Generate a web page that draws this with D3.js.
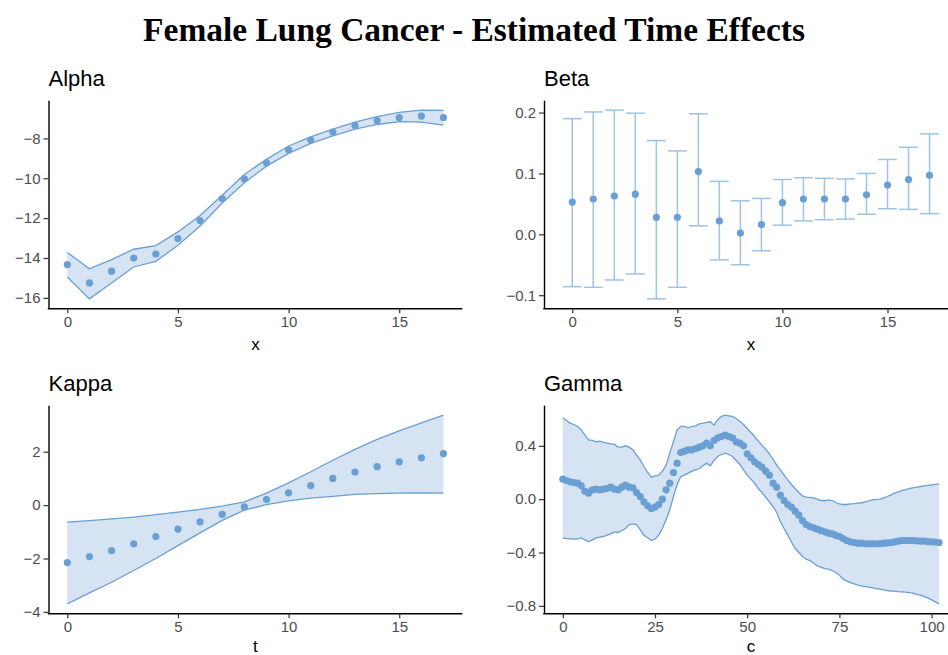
<!DOCTYPE html>
<html>
<head>
<meta charset="utf-8">
<script src="https://cdn.jsdelivr.net/npm/d3@7"></script>
<style>
  body { margin: 0; background: #fff; }
  svg { display: block; }
</style>
</head>
<body>
<div class="container"></div>
<script>
// ---- data ----
const ageIdx = [0, 1, 2, 3, 4, 5, 6, 7, 8, 9, 10, 11, 12, 13, 14, 15, 16, 17]
const timeIdx = [0, 1, 2, 3, 4, 5, 6, 7, 8, 9, 10, 11, 12, 13, 14, 15, 16, 17]
const cohortIdx = d3.range(103)

const alphaMean = [-14.33, -15.25, -14.66, -14.0, -13.8, -13.02, -12.12, -11.02, -10.03, -9.22, -8.57, -8.08, -7.68, -7.35, -7.10, -6.95, -6.88, -6.95]
const alphaUpper = [-13.72, -14.54, -14.08, -13.56, -13.38, -12.69, -11.87, -10.85, -9.81, -9.05, -8.38, -7.92, -7.53, -7.18, -6.90, -6.69, -6.58, -6.59]
const alphaLower = [-14.95, -16.05, -15.25, -14.45, -14.17, -13.36, -12.39, -11.24, -10.22, -9.39, -8.75, -8.25, -7.87, -7.53, -7.30, -7.16, -7.18, -7.33]

const betaMean = [0.053, 0.058, 0.063, 0.066, 0.028, 0.028, 0.103, 0.022, 0.002, 0.016, 0.052, 0.058, 0.058, 0.058, 0.065, 0.081, 0.090, 0.097]
const betaUpper = [0.190, 0.201, 0.204, 0.199, 0.154, 0.137, 0.198, 0.087, 0.055, 0.059, 0.090, 0.093, 0.092, 0.091, 0.100, 0.123, 0.143, 0.165]
const betaLower = [-0.086, -0.087, -0.075, -0.065, -0.106, -0.087, 0.014, -0.042, -0.050, -0.027, 0.015, 0.022, 0.024, 0.025, 0.033, 0.042, 0.041, 0.034]

const kappaMean = [-2.15, -1.93, -1.70, -1.45, -1.18, -0.90, -0.63, -0.35, -0.07, 0.21, 0.46, 0.73, 1.00, 1.24, 1.44, 1.62, 1.77, 1.93]
const kappaUpper = [-0.64, -0.58, -0.52, -0.45, -0.36, -0.26, -0.16, -0.04, 0.12, 0.45, 0.83, 1.25, 1.68, 2.09, 2.46, 2.78, 3.08, 3.37]
const kappaLower = [-3.70, -3.29, -2.89, -2.45, -2.00, -1.52, -1.04, -0.57, -0.19, 0.02, 0.16, 0.26, 0.33, 0.40, 0.43, 0.45, 0.46, 0.45]

const gammaMean = [0.15, 0.14, 0.13, 0.125, 0.12, 0.10, 0.06, 0.045, 0.07, 0.075,
    0.07, 0.075, 0.08, 0.09, 0.075, 0.07, 0.09, 0.105, 0.09, 0.085,
    0.05, 0.02, -0.02, -0.05, -0.07, -0.06, -0.04, 0.0, 0.07, 0.12,
    0.20, 0.27, 0.35, 0.36, 0.37, 0.37, 0.38, 0.39, 0.40, 0.42,
    0.40, 0.44, 0.46, 0.47, 0.48, 0.47, 0.46, 0.43, 0.42, 0.40,
    0.34, 0.31, 0.28, 0.26, 0.24, 0.21, 0.18, 0.12, 0.09, 0.03,
    -0.01, -0.04, -0.06, -0.09, -0.12, -0.16, -0.19, -0.205, -0.215, -0.225,
    -0.235, -0.245, -0.255, -0.26, -0.27, -0.28, -0.295, -0.31, -0.32, -0.325,
    -0.33, -0.33, -0.335, -0.335, -0.335, -0.335, -0.333, -0.33, -0.328, -0.325,
    -0.32, -0.315, -0.31, -0.31, -0.31, -0.31, -0.312, -0.315, -0.315, -0.318,
    -0.32, -0.322, -0.325]
const gammaUpper = [0.61, 0.59, 0.57, 0.56, 0.545, 0.52, 0.48, 0.445, 0.44, 0.43,
    0.435, 0.425, 0.42, 0.415, 0.41, 0.39, 0.39, 0.40, 0.39, 0.37,
    0.33, 0.295, 0.245, 0.20, 0.165, 0.175, 0.18, 0.21, 0.255, 0.345,
    0.43, 0.52, 0.545, 0.545, 0.535, 0.545, 0.55, 0.565, 0.57, 0.575,
    0.58, 0.555, 0.595, 0.62, 0.63, 0.625, 0.62, 0.605, 0.585, 0.56,
    0.53, 0.50, 0.47, 0.435, 0.405, 0.375, 0.34, 0.30, 0.255, 0.22,
    0.18, 0.145, 0.11, 0.08, 0.05, 0.025, 0.015, 0.013, 0.01, 0.0,
    -0.01, -0.012, -0.005, -0.01, -0.025, -0.035, -0.04, -0.04, -0.035, -0.033,
    -0.03, -0.027, -0.02, -0.012, -0.005, -0.002, 0.0, 0.01, 0.02, 0.032,
    0.045, 0.055, 0.065, 0.072, 0.08, 0.085, 0.09, 0.095, 0.10, 0.103,
    0.107, 0.111, 0.115]
const gammaLower = [-0.29, -0.295, -0.297, -0.30, -0.30, -0.29, -0.305, -0.32, -0.305, -0.29,
    -0.285, -0.28, -0.27, -0.26, -0.245, -0.25, -0.235, -0.22, -0.19, -0.185,
    -0.19, -0.23, -0.27, -0.29, -0.31, -0.30, -0.27, -0.22, -0.155, -0.08,
    0.02, 0.11, 0.17, 0.18, 0.195, 0.21, 0.22, 0.23, 0.25, 0.27,
    0.25, 0.29, 0.32, 0.335, 0.345, 0.335, 0.32, 0.29, 0.26, 0.22,
    0.18, 0.15, 0.12, 0.08, 0.05, 0.015, -0.02, -0.055, -0.10, -0.17,
    -0.22, -0.27, -0.32, -0.37, -0.40, -0.43, -0.45, -0.46, -0.48, -0.50,
    -0.51, -0.52, -0.525, -0.535, -0.55, -0.57, -0.60, -0.615, -0.625, -0.635,
    -0.645, -0.65, -0.655, -0.66, -0.665, -0.67, -0.675, -0.68, -0.685, -0.69,
    -0.69, -0.693, -0.695, -0.697, -0.70, -0.705, -0.715, -0.72, -0.73, -0.74,
    -0.755, -0.77, -0.785]

const alphaYTicks = [-16, -14, -12, -10, -8]
const betaYTicks = [-0.1, 0, 0.1, 0.2]
const kappaYTicks = [-4, -2, 0, 2]
const gammaYTicks = [-0.8, -0.4, 0, 0.4]
const idxXTicks = [0, 5, 10, 15]
const cohortXTicks = [0, 25, 50, 75, 100]

// ---- layout ----
const width = 948
const height = 655
const panelW = 413.8
const panelH = 207.6

const pointCol = "#6a9fd4"
const lineCol = "#6a9fd4"
const fillCol = "#d5e3f2"
const barCol = "#9dc3e6"

const svg = d3.select(".container")
    .append("svg")
    .attr("width", width)
    .attr("height", height)
    .style("font-family", "'Liberation Sans', Arial, sans-serif")

// main title, stretched to the reference's width
const title = svg.append("text")
    .attr("x", width / 2)
    .attr("y", 41)
    .attr("text-anchor", "middle")
    .style("font-family", "'Liberation Serif', 'DejaVu Serif', serif")
    .style("font-weight", "bold")
    .style("font-size", "31px")
    .text("Female Lung Cancer - Estimated Time Effects")
const tw = title.node().getComputedTextLength()
title.style("font-size", (31 * 662 / tw) + "px")

function expand(lo, hi) {
    const pad = (hi - lo) * 0.05
    return [lo - pad, hi + pad]
}

function drawPanel(opt) {
    const g = svg.append("g")
        .attr("transform", `translate(${opt.left}, ${opt.top})`)

    const x = d3.scaleLinear().domain(opt.xDomain).range([0, panelW])
    const y = d3.scaleLinear().domain(opt.yDomain).range([panelH, 0])

    // panel title
    svg.append("text")
        .attr("x", opt.left)
        .attr("y", opt.top - 14.5)
        .style("font-size", "22px")
        .attr("fill", "#000")
        .text(opt.title)

    const rows = opt.xs.map((d, i) => ({x: d, m: opt.mean[i], lo: opt.lower[i], hi: opt.upper[i]}))

    if (opt.ribbon) {
        g.append("path")
            .datum(rows)
            .attr("fill", fillCol)
            .attr("d", d3.area().x(d => x(d.x)).y0(d => y(d.lo)).y1(d => y(d.hi)))

        g.append("path")
            .datum(rows)
            .attr("fill", "none")
            .attr("stroke", lineCol)
            .attr("stroke-width", 1.3)
            .attr("d", d3.line().x(d => x(d.x)).y(d => y(d.hi)))

        g.append("path")
            .datum(rows)
            .attr("fill", "none")
            .attr("stroke", lineCol)
            .attr("stroke-width", 1.3)
            .attr("d", d3.line().x(d => x(d.x)).y(d => y(d.lo)))
    } else {
        // error bars with caps
        const half = 0.45
        const bars = g.append("g")
            .attr("stroke", barCol)
            .attr("stroke-width", 1.5)
            .attr("fill", "none")

        bars.selectAll("line.v")
            .data(rows)
            .join("line")
            .attr("class", "v")
            .attr("x1", d => x(d.x))
            .attr("x2", d => x(d.x))
            .attr("y1", d => y(d.lo))
            .attr("y2", d => y(d.hi))

        bars.selectAll("line.top")
            .data(rows)
            .join("line")
            .attr("class", "top")
            .attr("x1", d => x(d.x - half))
            .attr("x2", d => x(d.x + half))
            .attr("y1", d => y(d.hi))
            .attr("y2", d => y(d.hi))

        bars.selectAll("line.bot")
            .data(rows)
            .join("line")
            .attr("class", "bot")
            .attr("x1", d => x(d.x - half))
            .attr("x2", d => x(d.x + half))
            .attr("y1", d => y(d.lo))
            .attr("y2", d => y(d.lo))
    }

    g.selectAll("circle")
        .data(rows)
        .join("circle")
        .attr("cx", d => x(d.x))
        .attr("cy", d => y(d.m))
        .attr("r", 3.6)
        .attr("fill", pointCol)

    // axes
    const xAxis = g.append("g")
        .attr("transform", `translate(0, ${panelH})`)
        .call(d3.axisBottom(x).tickValues(opt.xTicks).tickSize(5).tickSizeOuter(0).tickPadding(3))
    const yAxis = g.append("g")
        .call(d3.axisLeft(y).tickValues(opt.yTicks).tickFormat(opt.yFormat).tickSize(5).tickSizeOuter(0).tickPadding(3))

    for (const ax of [xAxis, yAxis]) {
        ax.select(".domain").attr("stroke", "#000").attr("stroke-width", 1.4)
        ax.selectAll(".tick line").attr("stroke", "#333").attr("stroke-width", 1.2)
        ax.selectAll(".tick text")
            .attr("fill", "#4d4d4d")
            .style("font-size", "15px")
            .style("font-family", "'Liberation Sans', Arial, sans-serif")
    }
    // make the axis lines meet at the corner
    xAxis.select(".domain").attr("d", `M-0.7,0.5H${panelW}`)
    yAxis.select(".domain").attr("d", `M0.5,0V${panelH}`)

    // axis title (bottom row sits against the page edge)
    g.append("text")
        .attr("x", panelW / 2)
        .attr("y", Math.min(panelH + 42, height - opt.top - 2.5))
        .attr("text-anchor", "middle")
        .style("font-size", "17px")
        .attr("fill", "#000")
        .text(opt.xLabel)
}

drawPanel({
    title: "Alpha", left: 48.5, top: 100.7, ribbon: true,
    xs: ageIdx, mean: alphaMean, lower: alphaLower, upper: alphaUpper,
    xDomain: expand(0, 17), yDomain: expand(d3.min(alphaLower), d3.max(alphaUpper)),
    xTicks: idxXTicks, yTicks: alphaYTicks, yFormat: d3.format("d"), xLabel: "x"
})

drawPanel({
    title: "Beta", left: 544, top: 100.7, ribbon: false,
    xs: ageIdx, mean: betaMean, lower: betaLower, upper: betaUpper,
    xDomain: expand(-0.45, 17.45), yDomain: expand(d3.min(betaLower), d3.max(betaUpper)),
    xTicks: idxXTicks, yTicks: betaYTicks, yFormat: d3.format(".1f"), xLabel: "x"
})

drawPanel({
    title: "Kappa", left: 48.5, top: 405.7, ribbon: true,
    xs: timeIdx, mean: kappaMean, lower: kappaLower, upper: kappaUpper,
    xDomain: expand(0, 17), yDomain: expand(d3.min(kappaLower), d3.max(kappaUpper)),
    xTicks: idxXTicks, yTicks: kappaYTicks, yFormat: d3.format("d"), xLabel: "t"
})

drawPanel({
    title: "Gamma", left: 544, top: 405.7, ribbon: true,
    xs: cohortIdx, mean: gammaMean, lower: gammaLower, upper: gammaUpper,
    xDomain: expand(0, 102), yDomain: expand(d3.min(gammaLower), d3.max(gammaUpper)),
    xTicks: cohortXTicks, yTicks: gammaYTicks, yFormat: d3.format(".1f"), xLabel: "c"
})
</script>
</body>
</html>
